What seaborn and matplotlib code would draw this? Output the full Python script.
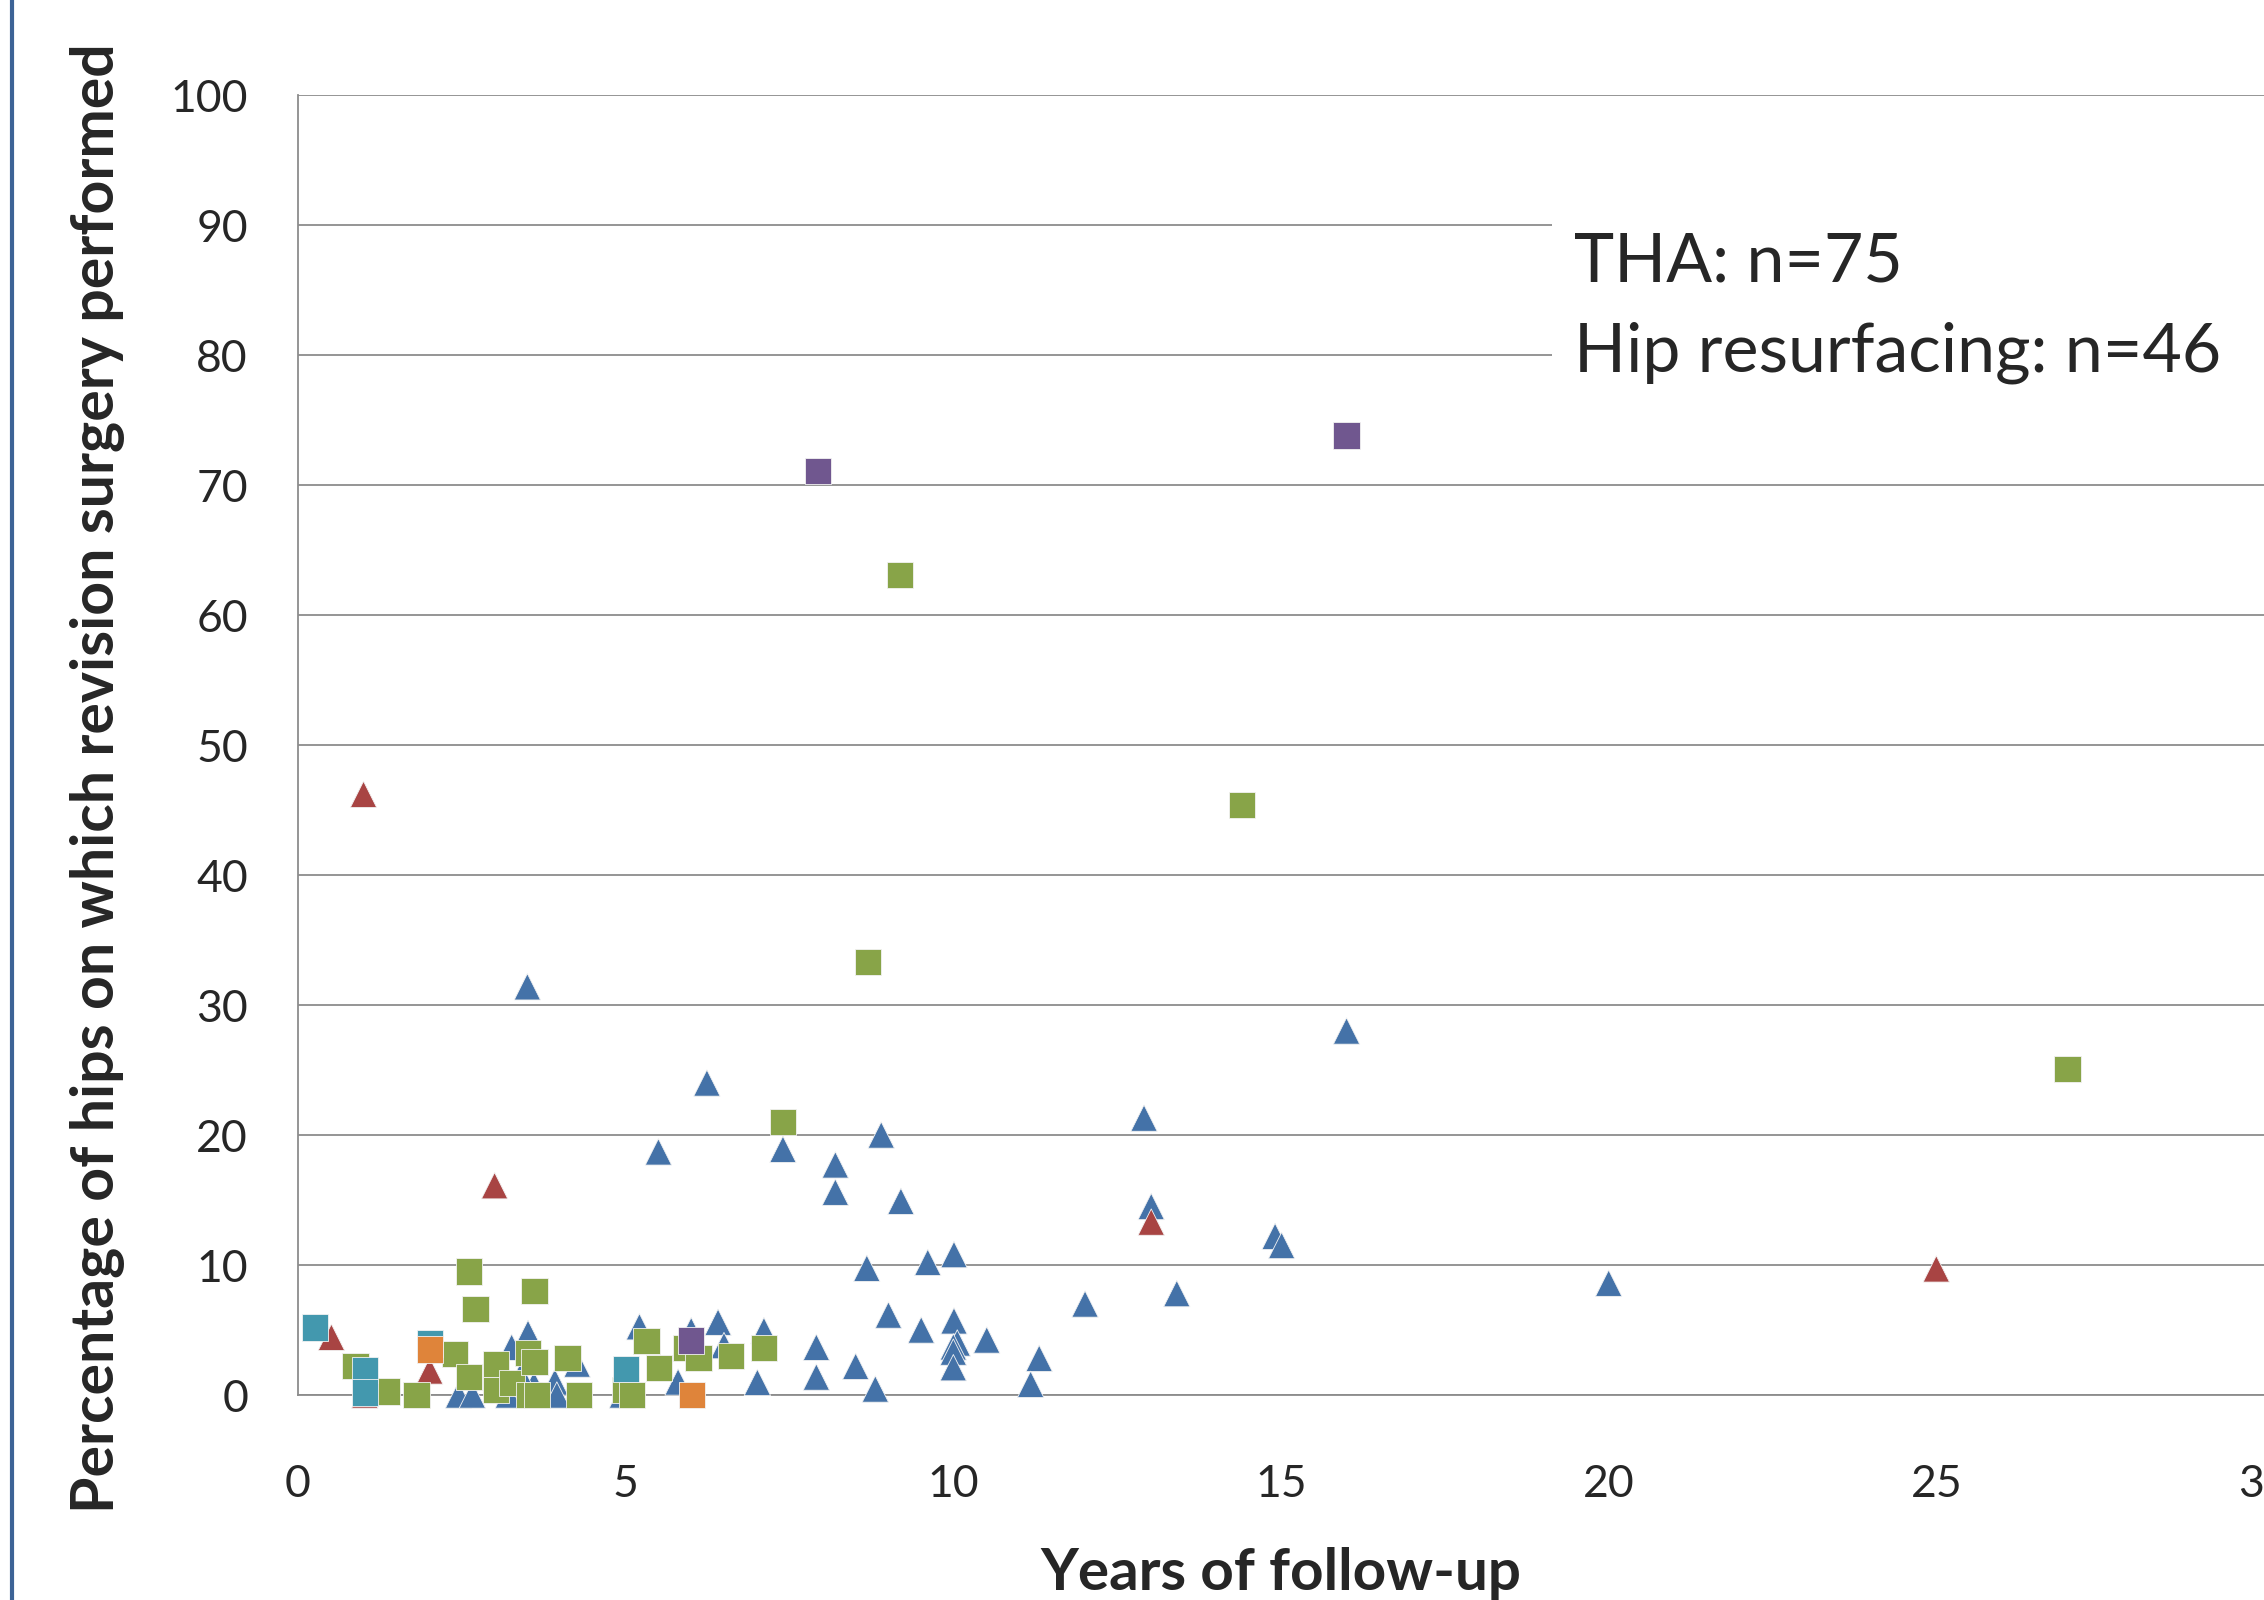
import matplotlib
matplotlib.use("Agg")
import matplotlib.pyplot as plt
from matplotlib.lines import Line2D
from matplotlib.patches import Rectangle
import numpy as np
import pandas as pd
import seaborn as sns

# THA series (triangles)
tha_blue_x = [3.5, 16.0, 6.24, 12.91, 8.9, 5.5, 7.4, 8.2, 8.2, 9.2, 13.02, 14.91, 15.01,
              10.01, 9.61, 8.68, 20.0, 13.41, 12.01, 9.01, 10.01, 9.51, 10.51, 10.06, 10.0,
              10.0, 10.0, 11.31, 8.51, 7.91, 7.91, 11.18, 8.81, 7.01, 7.11, 6.41, 6.5, 6.0,
              5.8, 5.21, 4.95, 4.26, 3.92, 3.95, 3.6, 3.51, 3.26, 3.4, 3.21, 2.45, 2.66]
tha_blue_y = [31.4, 28.0, 24.0, 21.3, 20.0, 18.7, 18.9, 17.7, 15.6, 14.9, 14.5, 12.2, 11.5,
              10.8, 10.2, 9.75, 8.6, 7.8, 7.0, 6.15, 5.7, 5.0, 4.23, 4.0, 3.7,
              3.3, 2.1, 2.82, 2.2, 3.67, 1.38, 0.82, 0.46, 0.97, 4.95, 5.6, 3.8, 4.95,
              1.0, 5.25, 0.0, 2.38, 1.0, 0.0, 0.8, 4.74, 3.67, 1.5, 0.0, 0.0, 0.0]
tha_red_x = [1.0, 3.0, 13.02, 25.0, 0.51, 2.01, 1.02]
tha_red_y = [46.2, 16.1, 13.3, 9.7, 4.44, 1.85, 0.0]

# Hip resurfacing series (squares)
hr_green_x = [9.19, 14.4, 8.7, 27.0, 7.4, 2.61, 3.61, 2.71, 0.88, 1.35, 1.81, 2.40, 2.61,
              3.02, 3.02, 3.27, 3.51, 3.61, 3.52, 3.65, 4.11, 4.29, 5.32, 5.0, 5.1,
              5.51, 5.92, 6.11, 6.61, 7.11]
hr_green_y = [63.1, 45.4, 33.3, 25.1, 21.0, 9.5, 8.0, 6.64, 2.23, 0.26, 0.0, 3.13, 1.38,
              2.4, 0.4, 0.9, 3.25, 2.56, 0.0, 0.0, 2.87, 0.0, 4.15, 0.4, 0.0,
              2.1, 3.6, 2.87, 3.0, 3.6]
hr_purple_x = [7.93, 16.0, 6.0]
hr_purple_y = [71.1, 73.8, 4.2]
hr_teal_x = [0.26, 1.02, 1.02, 2.01, 5.01]
hr_teal_y = [5.18, 1.9, 0.2, 3.95, 2.0]
hr_orange_x = [2.01, 6.01]
hr_orange_y = [3.5, 0.0]

series = [
    ("THA a", tha_blue_x, tha_blue_y, "#4472a8", "^"),
    ("THA b", tha_red_x, tha_red_y, "#a84443", "^"),
    ("HR a", hr_green_x, hr_green_y, "#88a448", "s"),
    ("HR b", hr_purple_x, hr_purple_y, "#70578f", "s"),
    ("HR c", hr_teal_x, hr_teal_y, "#4398ae", "s"),
    ("HR d", hr_orange_x, hr_orange_y, "#df843a", "s"),
]

df = pd.concat([pd.DataFrame({"years": x, "pct": y, "group": name})
                for name, x, y, _, _ in series], ignore_index=True)
palette = {name: c for name, _, _, c, _ in series}
markers = {name: m for name, _, _, _, m in series}

sns.set_style("white")
plt.rcParams['font.family'] = ['Lato', 'DejaVu Sans']

W, H = 2264, 1600
fig = plt.figure(figsize=(W / 100, H / 100), dpi=100)
ax = fig.add_axes([298 / W, 1 - 1395 / H, 1 - 298 / W, 1300 / H])

sns.scatterplot(data=df, x="years", y="pct", hue="group", style="group",
                palette=palette, markers=markers, s=360, edgecolor="#f2f2f2",
                linewidth=0.6, legend=False, clip_on=False, zorder=3, ax=ax)

ax.set_xlim(0, 30)
ax.set_ylim(0, 100)
ax.set_xticks(np.arange(0, 31, 5))
ax.set_yticks(np.arange(0, 101, 10))
ax.yaxis.grid(True, color="#8c8c8c", lw=1.3)
ax.xaxis.grid(False)
for side in ["top", "right"]:
    ax.spines[side].set_visible(False)
for side in ["left", "bottom"]:
    ax.spines[side].set_color("#8c8c8c")
    ax.spines[side].set_linewidth(1.3)
ax.tick_params(axis="x", length=0, pad=50, labelsize=32)
ax.tick_params(axis="y", length=0, pad=36, labelsize=32)
ax.set_xlabel("")
ax.set_ylabel("")

# white text box over the gridlines
ax.add_patch(Rectangle((0.638, 0.765), 0.37, 0.165, transform=ax.transAxes,
                       facecolor="white", edgecolor="none", zorder=2.5, clip_on=False))
ax.text(0.649, 0.871, "THA: n=75", transform=ax.transAxes, fontsize=49,
        va="center", ha="left", zorder=4)
ax.text(0.649, 0.802, "Hip resurfacing: n=46", transform=ax.transAxes, fontsize=49,
        va="center", ha="left", zorder=4)

fig.text(98 / W, 1 - 778 / H, "Percentage of hips on which revision surgery performed",
         rotation=90, ha="center", va="center", fontsize=42.5, fontweight="bold")
fig.text(1281 / W, 1 - 1590 / H, "Years of follow-up", ha="center", va="baseline",
         fontsize=42, fontweight="bold")

fig.add_artist(Line2D([12 / W, 12 / W], [0, 1], color="#3d6396", lw=3,
                      transform=fig.transFigure))

fig.savefig("out.png", dpi=100)
